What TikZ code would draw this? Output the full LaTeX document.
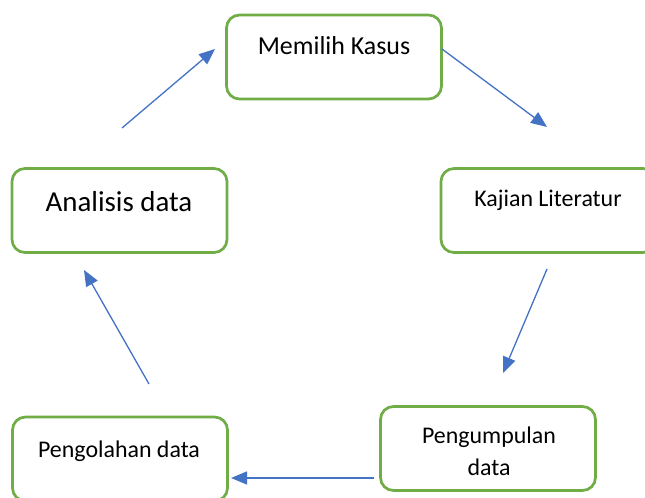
\documentclass[tikz,border=0pt]{standalone}
\usepackage{fontspec}
\setmainfont{Carlito}
\usetikzlibrary{arrows.meta}
\usetikzlibrary{positioning}

\definecolor{boxgreen}{HTML}{70AD47}
\definecolor{flowblue}{HTML}{4472C4}

\begin{document}
\begin{tikzpicture}[
      x = 1bp, y = -1bp,
      >={Triangle[length = 16bp, width = 13bp]},
      stage/.style = {
        rectangle, draw = boxgreen, line width = 2.7bp,
        rounded corners = 13bp,
        minimum width = 215bp, minimum height = 84bp
      },
      caption/.style = { anchor = base, align = center, text = black },
      flow/.style = { flowblue, line width = 1.3bp, -> },
    ]

    \useasboundingbox (0,0) rectangle (645,498);
    \clip (0,0) rectangle (645,498);
    \fill[white] (0,0) rectangle (645,498);

    %% the five boxes
    \node[stage] (memilih) at (334,57) {};
    \node[stage] (kajian) at (548.5,210.5) {};
    \node[stage] (pengumpulan) at (488,448.5) {};
    \node[stage] (pengolahan) at (120,459) {};
    \node[stage] (analisis) at (119.5,210.5) {};

    %% texts
    \node[caption, font = \fontsize{26}{31}\selectfont] (memilihtxt) at (334,55) {Memilih Kasus};
    \node[caption, font = \fontsize{24}{29}\selectfont] (kajiantxt) at (548,207) {Kajian Literatur};
    \node[align = center, font = \fontsize{24}{32}\selectfont] (pengumpulantxt) at (489,451) {Pengumpulan\\ data};
    \node[caption, font = \fontsize{24}{29}\selectfont] (pengolahantxt) at (119,457) {Pengolahan data};
    \node[caption, font = \fontsize{29}{35}\selectfont] (analisistxt) at (119,212) {Analisis data};

    %% arrow ends
    \coordinate (a1) at (122,128);  \coordinate (b1) at (215,49);
    \coordinate (a2) at (442,49);   \coordinate (b2) at (547,127);
    \coordinate (a3) at (547,269);  \coordinate (b3) at (503,373);
    \coordinate (a4) at (374,478);  \coordinate (b4) at (231,478);
    \coordinate (a5) at (149,384);  \coordinate (b5) at (84,270);

    \foreach \i in {1,...,5} {
      \draw[flow] (a\i) to (b\i);
    }
  \end{tikzpicture}
\end{document}
